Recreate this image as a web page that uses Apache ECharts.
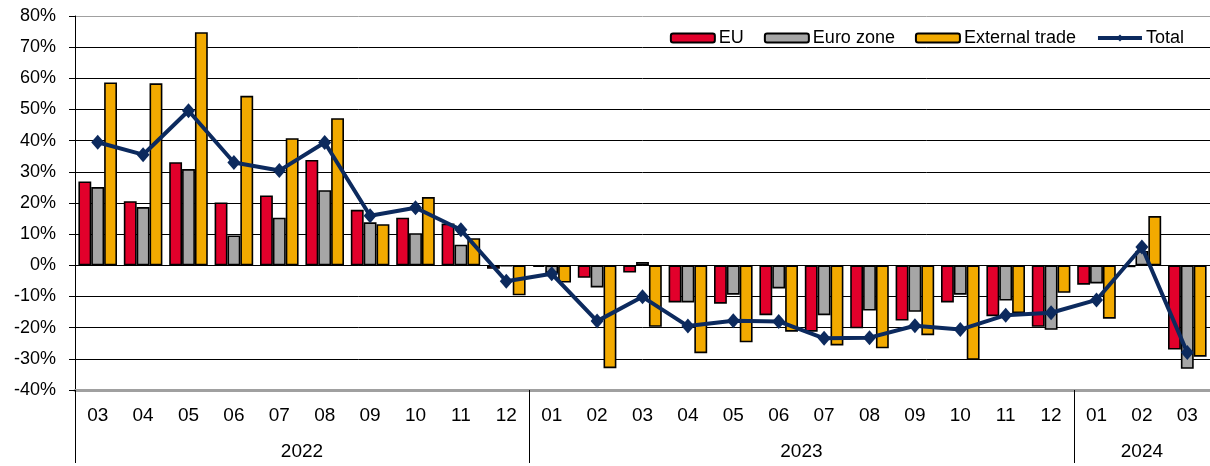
<!DOCTYPE html>
<html>
<head>
<meta charset="utf-8">
<script src="https://cdn.jsdelivr.net/npm/echarts@6/dist/echarts.min.js"></script>
<style>
    html, body { margin: 0; padding: 0; background: #fff; }
    #chart { width: 1210px; height: 466px; }
</style>
</head>
<body>
<div id="chart"></div>
<script>
// months from 2022-03 to 2024-03
const months = ['03', '04', '05', '06', '07', '08', '09', '10', '11', '12',
    '01', '02', '03', '04', '05', '06', '07', '08', '09', '10', '11', '12',
    '01', '02', '03'];
const years = ['2022', '2023', '2024'];
const yearCenters = [5, 16, 23.5];   // middle of each year group (in category units)
const yearBreaks = [0, 10, 22];      // where a new year starts

const euValues = [26.9, 20.6, 33.1, 20.2, 22.4, 33.8, 17.8, 15.3, 13.4, -1.1,
    -0.5, -4.0, -2.3, -11.9, -12.3, -16.0, -21.3, -20.2, -17.7, -11.9, -16.3, -19.7,
    -6.2, -0.6, -27.0];
const euroZoneValues = [25.1, 18.7, 30.9, 9.6, 15.3, 24.1, 13.8, 10.3, 6.6, -0.3,
    -2.5, -7.1, 1.1, -11.9, -9.4, -7.4, -16.0, -14.5, -14.9, -9.4, -11.3, -20.7,
    -5.8, 4.6, -33.2];
const externalValues = [58.7, 58.4, 74.8, 54.4, 40.8, 47.2, 13.2, 21.9, 8.7, -9.6,
    -5.5, -33.0, -19.7, -28.2, -24.7, -21.3, -25.7, -26.6, -22.4, -30.3, -15.3, -8.8,
    -17.1, 15.8, -29.3];
const totalValues = [39.5, 35.5, 49.6, 33.0, 30.4, 39.4, 15.9, 18.5, 11.4, -5.1,
    -2.7, -17.9, -10.1, -19.5, -17.8, -18.0, -23.4, -23.2, -19.4, -20.6, -16.0, -15.2,
    -11.1, 5.9, -28.0];

const font = '"Liberation Sans", Arial, sans-serif';

// gridline colours, bottom to top (-40% ... 80%)
const gridColors = ['#a0a0a0'];
for (let i = 0; i < 11; i++) gridColors.push('#000');
gridColors.push('#a0a0a0');

const barStyle = (color) => ({
    color: color,
    borderColor: '#000',
    borderWidth: 1.6
});

const chart = echarts.init(document.getElementById('chart'));
chart.setOption({
    animation: false,
    textStyle: { fontFamily: font, color: '#000' },
    grid: { left: 75, right: 0, top: 16, bottom: 76 },
    legend: {
        right: 21,
        top: 24,
        itemWidth: 44,
        itemHeight: 9,
        itemGap: 20,
        textStyle: { fontSize: 18, color: '#000', fontFamily: font, padding: [0, 0, 0, -1] },
        data: [
            'EU',
            'Euro zone',
            'External trade',
            { name: 'Total', lineStyle: { width: 4 } }
        ]
    },
    xAxis: [
        {
            // axis crossing at 0 %, only small ticks
            type: 'category',
            data: months,
            position: 'bottom',
            axisLine: { onZero: true, lineStyle: { color: '#000', width: 1 } },
            axisTick: { length: 4, lineStyle: { color: '#000' } },
            axisLabel: { show: false },
            splitLine: { show: false }
        },
        {
            // month labels
            type: 'category',
            data: months,
            position: 'bottom',
            axisLine: { onZero: false, lineStyle: { color: '#a0a0a0', width: 3 } },
            axisTick: { length: 37, lineStyle: { color: '#000', width: 1 } },
            axisLabel: { margin: 16, fontSize: 19, color: '#000', fontFamily: font },
            splitLine: { show: false }
        },
        {
            // year labels
            type: 'value',
            min: 0,
            max: 25,
            position: 'bottom',
            axisLine: { show: false, onZero: false },
            axisTick: { customValues: yearBreaks, length: 73, lineStyle: { color: '#000', width: 1 } },
            axisLabel: {
                customValues: yearCenters,
                margin: 52,
                fontSize: 19,
                color: '#000',
                fontFamily: font,
                formatter: (v) => years[yearCenters.indexOf(v)]
            },
            splitLine: { show: false }
        }
    ],
    yAxis: {
        type: 'value',
        min: -40,
        max: 80,
        interval: 10,
        axisLine: { show: true, lineStyle: { color: '#000', width: 1 } },
        axisTick: { show: true, length: 6, lineStyle: { color: '#000' } },
        axisLabel: { formatter: '{value}%', fontSize: 18, margin: 19, color: '#000', fontFamily: font },
        splitLine: { lineStyle: { color: gridColors, width: 1 } }
    },
    series: [
        {
            name: 'EU',
            type: 'bar',
            xAxisIndex: 0,
            data: euValues,
            barGap: '0%',
            barCategoryGap: '15%',
            itemStyle: barStyle('#e2002b')
        },
        {
            name: 'Euro zone',
            type: 'bar',
            xAxisIndex: 0,
            data: euroZoneValues,
            itemStyle: barStyle('#a6a6a6')
        },
        {
            name: 'External trade',
            type: 'bar',
            xAxisIndex: 0,
            data: externalValues,
            itemStyle: barStyle('#f2aa00')
        },
        {
            name: 'Total',
            type: 'line',
            xAxisIndex: 0,
            data: totalValues,
            z: 5,
            symbol: 'diamond',
            symbolSize: [13, 15],
            lineStyle: { color: '#0c2a5e', width: 4 },
            itemStyle: { color: '#0c2a5e' }
        }
    ]
});
</script>
</body>
</html>
